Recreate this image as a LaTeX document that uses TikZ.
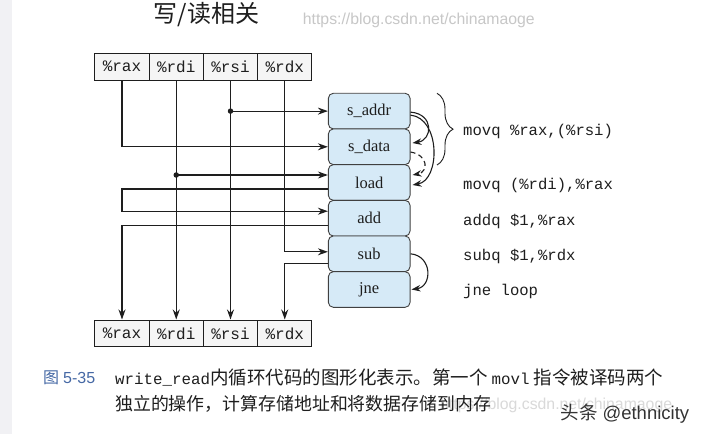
\documentclass[tikz,border=0pt]{standalone}
\usepackage{fontspec}
\setmainfont{Liberation Serif}
\setmonofont{Liberation Mono}
\setsansfont{Liberation Sans}
\newfontfamily\cjk{Noto Sans CJK SC}
\usetikzlibrary{arrows.meta,decorations.pathreplacing}
\definecolor{opblue}{RGB}{214,234,247}
\definecolor{capblue}{RGB}{70,105,165}
\definecolor{stripgray}{RGB}{241,241,244}
\definecolor{inkc}{RGB}{30,30,30}
\begin{document}
\begin{tikzpicture}[x=1pt,y=1pt,
  reg/.style={draw=inkc, fill=white!96!black, minimum width=54.25pt, minimum height=26.7pt,
    inner sep=0pt, font=\ttfamily\fontsize{16}{16}\selectfont, line width=0.9pt, text=inkc},
  op/.style={draw=black!75, fill=opblue, rounded corners=5pt, minimum width=81.7pt,
    minimum height=35.67pt, inner sep=0pt, font=\fontsize{16.5}{16.5}\selectfont, line width=0.9pt, text=inkc},
  wire/.style={line width=1.1pt, draw=inkc},
  arr/.style={wire, -{Stealth[length=10pt,width=7pt]}},
  carr/.style={wire, -{Stealth[length=9pt,width=6.5pt]}},
  jdot/.style={circle, fill=inkc, inner sep=0pt, minimum size=5.5pt},
  code/.style={anchor=west, inner sep=0pt, font=\ttfamily\fontsize{15.6}{15.6}\selectfont, text=inkc},
]
\useasboundingbox (0,0) rectangle (704,-434);
\fill[white] (0,0) rectangle (704,-434);
\fill[stripgray] (0,0) rectangle (12,-434);

% title and watermark
\node[font=\cjk\fontsize{24}{24}\selectfont, text=inkc] (title) at (206.5,-15) {写/读相关};
\node[anchor=west, inner sep=0pt, font=\sffamily\fontsize{15.8}{15.8}\selectfont, text=black!22] (wm1) at (302.7,-20.7) {https://blog.csdn.net/chinamaoge};

% register files
\node[reg] (t1) at (122,-66.7) {\%rax};
\node[reg] (t2) at (176.25,-66.7) {\%rdi};
\node[reg] (t3) at (230.5,-66.7) {\%rsi};
\node[reg] (t4) at (284.75,-66.7) {\%rdx};
\node[reg] (b1) at (122,-333.3) {\%rax};
\node[reg] (b2) at (176.25,-333.3) {\%rdi};
\node[reg] (b3) at (230.5,-333.3) {\%rsi};
\node[reg] (b4) at (284.75,-333.3) {\%rdx};

% operations
\node[op] (sa) at (369.2,-111.1) {s\_addr};
\node[op] (sd) at (369.2,-146.8) {s\_data};
\node[op] (ld) at (369.2,-182.5) {load};
\node[op] (ad) at (369.2,-218.2) {add};
\node[op] (sb) at (369.2,-253.8) {sub};
\node[op] (jn) at (369.2,-289.5) {jne};

% data flow
\draw[arr] (t2.south) -- (b2.north);
\draw[arr] (t3.south) -- (b3.north);
\draw[arr] (t1.south) |- (sd.west);
\coordinate (sain) at (sa.west);
\draw[arr] (t3.south |- sain) -- (sain);
\node[jdot] (d1) at (t3.south |- sain) {};
\coordinate (ldin) at ([yshift=7.5pt]ld.west);
\draw[arr] (t2.south |- ldin) -- (ldin);
\node[jdot] (d2) at (t2.south |- ldin) {};
\coordinate (ldout) at ([yshift=-6.5pt]ld.west);
\coordinate (adin) at ([yshift=7pt]ad.west);
\draw[arr] (ldout) -- (t1.south |- ldout) -- (t1.south |- adin) -- (adin);
\coordinate (adout) at ([yshift=-7pt]ad.west);
\draw[arr] (adout) -| (b1.north);
\coordinate (sbin) at ([yshift=2pt]sb.west);
\draw[arr] (t4.south) |- (sbin);
\coordinate (sbout) at ([yshift=-10pt]sb.west);
\draw[arr] (sbout) -| (b4.north);

% dependencies on the right
\draw[carr] ([yshift=-1pt]sa.east) .. controls +(24,-2) and +(20,3) .. ([xshift=2pt,yshift=3.8pt]sd.east);
\draw[carr] ([yshift=-4pt]sa.east) .. controls +(30,-3) and +(28,5) .. ([xshift=2pt,yshift=-2.5pt]ld.east);
\draw[carr, dash pattern=on 5pt off 3.5pt] ([yshift=-5.2pt]sd.east) .. controls +(18,-3) and +(16,3) .. ([xshift=2pt,yshift=7.5pt]ld.east);
\draw[carr] (sb.east) .. controls +(22,-2) and +(21,3) .. ([xshift=1pt]jn.east);

% brace and code
\draw[line width=0.9pt, draw=inkc, decorate, decoration={brace, amplitude=16pt}] (437,-93.3) -- (437,-165);
\node[code] (c1) at (463,-131.7) {movq \%rax,(\%rsi)};
\node[code] (c2) at (463,-185) {movq (\%rdi),\%rax};
\node[code] (c3) at (463,-221.7) {addq \$1,\%rax};
\node[code] (c4) at (463,-256.7) {subq \$1,\%rdx};
\node[code] (c5) at (463,-291.7) {jne loop};

% caption
\node[anchor=west, inner sep=0pt, font=\sffamily\fontsize{15.8}{15.8}\selectfont, text=black!15] (wm2) at (440,-405) {https://blog.csdn.net/chinamaoge};
\node[anchor=west, inner sep=0pt, text=capblue, font=\fontsize{16}{16}\selectfont] (fig) at (43,-377.7) {{\cjk 图} {\sffamily 5-35}};
\node[anchor=west, inner sep=0pt, text=inkc, font=\cjk\fontsize{18.5}{18.5}\selectfont] (cap1) at (115,-377.7)
  {{\ttfamily\fontsize{15.8}{15.8}\selectfont write\_read}内循环代码的图形化表示。第一个 {\ttfamily\fontsize{15.8}{15.8}\selectfont movl} 指令被译码两个};
\node[anchor=west, inner sep=0pt, text=inkc, font=\cjk\fontsize{17.9}{17.9}\selectfont] (cap2) at (115,-404.3)
  {独立的操作，计算存储地址和将数据存储到内存};
\node[anchor=west, inner sep=0pt, text=black!80, font=\fontsize{18.5}{18.5}\selectfont] (tt) at (560.7,-413.3) {{\cjk 头条} {\sffamily @ethnicity}};
\end{tikzpicture}
\end{document}
